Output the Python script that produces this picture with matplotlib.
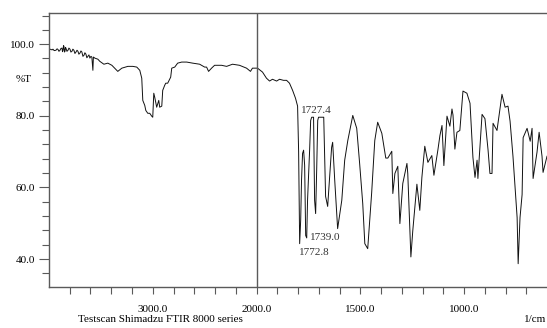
import numpy as np
import matplotlib.pyplot as plt
from matplotlib.transforms import blended_transform_factory

# FTIR spectrum (wavenumber in 1/cm, transmittance in %T)
wn_high = [3990, 3970, 3962, 3950, 3933, 3922, 3913, 3904, 3894, 3885, 3875, 3870,
           3865, 3860, 3856, 3851, 3846, 3841, 3837, 3827, 3817, 3808, 3798, 3789,
           3779, 3770, 3760, 3750, 3740, 3730, 3721, 3712, 3702, 3692, 3683, 3673,
           3663, 3654, 3644, 3635, 3625, 3615, 3606, 3596, 3587,
           3577, 3572, 3558, 3529, 3510, 3471, 3433, 3394, 3337, 3298, 3240, 3192,
           3154, 3125, 3106, 3096, 3077, 3067, 3048, 3029, 3010, 3000, 2990, 2981,
           2962, 2942, 2933, 2913, 2904, 2885, 2875, 2856, 2827, 2817, 2788, 2760,
           2721, 2673, 2615, 2548, 2500, 2481, 2462, 2433, 2404, 2385, 2337, 2288,
           2231, 2164, 2096, 2058, 2039, 2019]
t_high = [98.6, 98.4, 98.6, 98.2, 98.3, 98.7, 98.5, 98.0, 98.3, 98.8, 98.9, 97.9,
          98.3, 99.6, 99.4, 97.8, 98.0, 99.1, 98.9, 98.0, 98.3, 98.9, 98.6, 97.8,
          98.0, 98.6, 98.3, 97.4, 97.8, 98.3, 98.0, 97.2, 97.5, 98.1, 97.8, 96.6,
          96.9, 97.6, 97.2, 96.2, 96.6, 97.0, 96.1, 96.6, 96.4,
          92.7, 96.4, 96.1, 95.8, 95.2, 94.4, 94.7, 94.1, 92.4, 93.3, 93.8, 93.8,
          93.6, 92.7, 90.5, 84.3, 82.9, 81.5, 80.7, 80.7, 79.9, 79.6, 86.3, 85.2,
          82.4, 84.3, 82.4, 82.7, 87.1, 88.5, 89.1, 89.1, 90.8, 93.3, 93.6, 94.7,
          95.0, 95.0, 94.7, 94.4, 93.6, 93.6, 92.4, 93.3, 94.1, 94.1, 94.1, 93.8,
          94.4, 94.1, 93.3, 92.4, 93.3, 93.3]

wn_low = [2000, 1995, 1971, 1952, 1937, 1923, 1903, 1889, 1870, 1855, 1841, 1826,
          1812, 1802, 1797, 1792, 1787, 1783, 1778, 1773, 1768, 1763, 1758, 1754,
          1744, 1739, 1734, 1725, 1720, 1715, 1710, 1705, 1701, 1676, 1667, 1657,
          1638, 1633, 1623, 1609, 1589, 1575, 1560, 1536, 1517, 1503, 1488, 1478,
          1464, 1445, 1430, 1416, 1396, 1377, 1367, 1348, 1343, 1333, 1319, 1309,
          1295, 1275, 1271, 1256, 1247, 1227, 1213, 1203, 1189, 1174, 1155, 1145,
          1126, 1116, 1106, 1097, 1082, 1068, 1058, 1053, 1044, 1034, 1020, 1005,
          986, 971, 957, 947, 937, 933, 913, 899, 884, 875, 865, 860, 841, 817,
          802, 788, 778, 764, 744, 739, 730, 720, 715, 696, 681, 672, 667, 648,
          638, 624, 619, 600]
t_low = [93.3, 93.3, 92.2, 90.5, 89.7, 90.2, 89.7, 90.2, 89.9, 89.9, 89.1, 87.1,
         84.9, 82.7, 70.0, 44.3, 51.0, 62.0, 69.5, 70.4, 66.2, 46.6, 45.9, 56.4,
         70.4, 78.7, 79.6, 79.6, 56.4, 52.7, 64.8, 78.7, 79.6, 79.6, 57.5, 54.7,
         71.2, 72.6, 62.0, 48.5, 56.4, 67.6, 73.1, 80.1, 76.5, 66.7, 55.5, 44.3,
         42.9, 58.5, 73.1, 78.2, 75.1, 68.2, 68.2, 70.1, 58.3, 63.9, 65.9, 49.9,
         61.1, 66.7, 63.9, 40.6, 47.8, 60.9, 53.6, 62.8, 71.5, 67.0, 68.9, 63.4,
         70.4, 74.5, 77.3, 66.1, 79.9, 77.1, 81.9, 80.2, 70.7, 75.4, 75.9, 86.9,
         86.3, 83.5, 68.4, 62.8, 67.6, 62.5, 80.4, 79.2, 70.4, 63.9, 63.9, 77.9,
         75.9, 86.0, 82.4, 82.7, 78.5, 68.7, 51.6, 38.7, 51.6, 58.0, 73.9, 76.5,
         72.9, 76.5, 62.5, 69.9, 75.4, 68.7, 64.2, 68.7]

peak_labels = ["1727.4", "1739.0", "1772.8"]
peak_pos = [(1787, 81.5), (1740, 46.0), (1797, 41.8)]

wn = np.array(wn_high + wn_low, dtype=float)
tr = np.array(t_high + t_low, dtype=float)


# Shimadzu style axis: scale doubles below 2000 1/cm
def fwd(x):
    x = np.asarray(x, dtype=float)
    return np.where(x >= 2000, x, 2 * x - 2000)


def inv(u):
    u = np.asarray(u, dtype=float)
    return np.where(u >= 2000, u, (u + 2000) / 2)


plt.rcParams['font.family'] = ['Liberation Serif', 'DejaVu Serif']
spine_col = '#5a5a5a'

fig = plt.figure(figsize=(5.47, 3.28), dpi=100)
ax = fig.add_axes([49 / 547, 41 / 328, 1 - 49 / 547, 274 / 328])
ax.set_xscale('function', functions=(fwd, inv))
ax.plot(wn, tr, color='#111111', lw=0.7)
ax.axvline(2000, color=spine_col, lw=1.0)

ax.set_xlim(4000, 600)
ax.set_ylim(32.2, 108.7)

ax.set_xticks([3000, 2000, 1500, 1000])
ax.set_xticklabels(['3000.0', '2000.0', '1500.0', '1000.0'])
ax.set_xticks(list(range(3800, 2000, -200)) + list(range(1900, 600, -100)), minor=True)
ax.set_yticks([40, 60, 80, 100])
ax.set_yticklabels(['40.0', '60.0', '80.0', '100.0'])
ax.set_yticks(list(range(36, 109, 4)), minor=True)

ax.tick_params(axis='both', which='both', direction='out', color=spine_col,
               labelsize=8, width=0.8)
ax.tick_params(axis='x', which='both', length=5, pad=8)
ax.tick_params(axis='y', which='major', length=7, pad=3)
ax.tick_params(axis='y', which='minor', length=5)

for s in ['left', 'bottom', 'top']:
    ax.spines[s].set_color(spine_col)
    ax.spines[s].set_linewidth(1.0)
ax.spines['right'].set_visible(False)

trans = blended_transform_factory(ax.transAxes, ax.transData)
ax.text(-0.035, 90, '%T', transform=trans, ha='right', va='center', fontsize=8)

for lab, (x, y) in zip(peak_labels, peak_pos):
    ax.text(x, y, lab, ha='left', va='center', fontsize=8, color='#333333')

fig.text(160 / 547, 1 - 319 / 328, 'Testscan Shimadzu FTIR 8000 series',
         ha='center', va='center', fontsize=8)
fig.text(546 / 547, 1 - 320 / 328, '1/cm', ha='right', va='center', fontsize=8)

fig.savefig('out.png', dpi=100)
